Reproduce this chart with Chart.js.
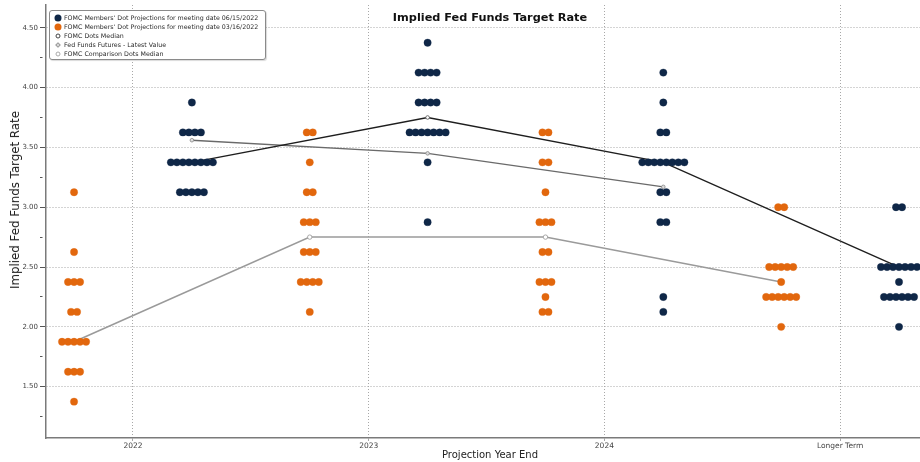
<!DOCTYPE html>
<html>
<head>
<meta charset="utf-8">
<title>Implied Fed Funds Target Rate</title>
<script src="https://cdn.jsdelivr.net/npm/chart.js@4/dist/chart.umd.min.js"></script>
<style>
    html, body { margin: 0; padding: 0; background: #fff; }
    #wrap { position: relative; width: 920px; height: 462px; overflow: hidden; }
    #chart { display: block; }
    #title {
        position: absolute; left: 490px; top: 11px; transform: translateX(-50%);
        font: bold 11.3px "DejaVu Sans", sans-serif; color: #111; white-space: nowrap;
    }
    #ytitle {
        position: absolute; left: 15px; top: 200px; transform: translate(-50%, -50%) rotate(-90deg);
        font: 11.8px "DejaVu Sans", sans-serif; color: #222; white-space: nowrap;
    }
    #xtitle {
        position: absolute; left: 490px; top: 449px; transform: translateX(-50%);
        font: 10px "DejaVu Sans", sans-serif; color: #222; white-space: nowrap;
    }
    #legend {
        position: absolute; left: 49px; top: 10px; width: 217px; height: 50px;
        border: 1px solid #8a8a8a; border-radius: 3px; background: #fff;
        box-shadow: 1px 1px 1px rgba(0,0,0,0.15);
        padding: 3px 0 0 0; box-sizing: border-box;
        font: 6.3px "DejaVu Sans", sans-serif; color: #2a2a2a;
    }
    #legend .row { height: 8.9px; line-height: 8.9px; position: relative; padding-left: 14px; white-space: nowrap; }
    #legend .mk { position: absolute; left: 8px; top: 50%; transform: translate(-50%, -50%); border-radius: 50%; box-sizing: border-box; }
</style>
</head>
<body>
<div id="wrap">
    <canvas id="chart" width="920" height="462"></canvas>
    <div id="title">Implied Fed Funds Target Rate</div>
    <div id="ytitle">Implied Fed Funds Target Rate</div>
    <div id="xtitle">Projection Year End</div>
    <div id="legend"></div>
</div>
<script>
'use strict';

// Categories on the x axis
const categories = ['2022', '2023', '2024', 'Longer Term'];

// Y axis ticks (labelled majors, unlabelled minors)
const yMajorTicks = [1.5, 2.0, 2.5, 3.0, 3.5, 4.0, 4.5];
const yMinorTicks = [1.25, 1.75, 2.25, 2.75, 3.25, 3.75, 4.25];

// Dot plot, meeting 06/15/2022: [rate, number of dots] per category
const june2022 = [[3.875, 1], [3.625, 4], [3.375, 8], [3.125, 5]];
const june2023 = [[4.375, 1], [4.125, 4], [3.875, 4], [3.625, 7], [3.375, 1], [2.875, 1]];
const june2024 = [[4.125, 1], [3.875, 1], [3.625, 2], [3.375, 8], [3.125, 2], [2.875, 2], [2.25, 1], [2.125, 1]];
const juneLonger = [[3.0, 2], [2.5, 7], [2.375, 1], [2.25, 6], [2.0, 1]];

// Dot plot, meeting 03/16/2022
const march2022 = [[3.125, 1], [2.625, 1], [2.375, 3], [2.125, 2], [1.875, 5], [1.625, 3], [1.375, 1]];
const march2023 = [[3.625, 2], [3.375, 1], [3.125, 2], [2.875, 3], [2.625, 3], [2.375, 4], [2.125, 1]];
const march2024 = [[3.625, 2], [3.375, 2], [3.125, 1], [2.875, 3], [2.625, 2], [2.375, 3], [2.25, 1], [2.125, 2]];
const marchLonger = [[3.0, 2], [2.5, 5], [2.375, 1], [2.25, 6], [2.0, 1]];

// Medians and futures
const medianJune = [3.375, 3.75, 3.375, 2.5];
const medianMarch = [1.875, 2.75, 2.75, 2.375];
const futuresLatest = [3.56, 3.45, 3.17];

const LEGEND_LABELS = [
    "FOMC Members' Dot Projections for meeting date 06/15/2022",
    "FOMC Members' Dot Projections for meeting date 03/16/2022",
    'FOMC Dots Median',
    'Fed Funds Futures - Latest Value',
    'FOMC Comparison Dots Median'
];

const NAVY = '#0f2747';
const ORANGE = '#e2670d';
const FONT = '"DejaVu Sans", sans-serif';
const SIDE_OFFSET = 0.25;   // march dots left of the year line, june dots right
const DOT_STEP = 0.0255;    // horizontal step between stacked dots (x units)

/**
 * Turn [rate, count] rows into scatter points, dots centred around the column
 */
function dotPoints(columns, side) {
    const points = [];
    columns.forEach(function(rows, i) {
        rows.forEach(function(row) {
            const rate = row[0], count = row[1];
            for (let k = 0; k < count; k++) {
                points.push({ x: i + side + (k - (count - 1) / 2) * DOT_STEP, y: rate });
            }
        });
    });
    return points;
}

function linePoints(values, side) {
    return values.map(function(v, i) { return { x: i + side, y: v }; });
}

const datasets = [
    {
        label: LEGEND_LABELS[0],
        data: dotPoints([june2022, june2023, june2024, juneLonger], SIDE_OFFSET),
        pointRadius: 3.7, pointBackgroundColor: NAVY, pointBorderColor: NAVY, pointBorderWidth: 0.3,
        order: 0
    },
    {
        label: LEGEND_LABELS[1],
        data: dotPoints([march2022, march2023, march2024, marchLonger], -SIDE_OFFSET),
        pointRadius: 3.7, pointBackgroundColor: ORANGE, pointBorderColor: ORANGE, pointBorderWidth: 0.3,
        order: 0
    },
    {
        label: LEGEND_LABELS[2],
        data: linePoints(medianJune, SIDE_OFFSET),
        showLine: true, borderColor: '#1e1e1e', borderWidth: 1.4,
        pointRadius: 1.8, pointBackgroundColor: '#fff', pointBorderColor: '#555', pointBorderWidth: 0.8,
        order: 1
    },
    {
        label: LEGEND_LABELS[3],
        data: linePoints(futuresLatest, SIDE_OFFSET),
        showLine: true, borderColor: '#6a6a6a', borderWidth: 1.4,
        pointRadius: 1.8, pointBackgroundColor: '#ddd', pointBorderColor: '#888', pointBorderWidth: 0.8,
        order: 1
    },
    {
        label: LEGEND_LABELS[4],
        data: linePoints(medianMarch, -SIDE_OFFSET),
        showLine: true, borderColor: '#9a9a9a', borderWidth: 1.5,
        pointRadius: 2.2, pointBackgroundColor: '#fff', pointBorderColor: '#a0a0a0', pointBorderWidth: 0.9,
        order: 1
    }
];

const isMajor = function(v) { return yMajorTicks.indexOf(v) !== -1; };

const chart = new Chart(document.getElementById('chart').getContext('2d'), {
    type: 'scatter',
    data: { datasets: datasets },
    options: {
        responsive: false,
        animation: false,
        layout: { autoPadding: false, padding: { top: 5, right: 0, bottom: 0, left: 0 } },
        plugins: {
            legend: { display: false },
            tooltip: { enabled: false }
        },
        scales: {
            x: {
                type: 'linear',
                min: -0.369,
                max: 3.339,
                afterBuildTicks: function(scale) {
                    scale.ticks = categories.map(function(c, i) { return { value: i }; });
                },
                afterFit: function(scale) {
                    // no extra room for the edge labels, plot runs to the right edge
                    scale.height = 24;
                    scale.paddingLeft = 0;
                    scale.paddingRight = 0;
                },
                ticks: {
                    callback: function(v) { return categories[v]; },
                    font: { family: FONT, size: 7.5 },
                    color: '#444',
                    padding: 1,
                    maxRotation: 0,
                    autoSkip: false
                },
                grid: { color: '#a8a8a8', lineWidth: 1, tickLength: 3, tickColor: '#a8a8a8' },
                border: { color: '#7a7a7a', width: 1.5, dash: [1, 2] }
            },
            y: {
                min: 1.071,
                max: 4.69,
                afterBuildTicks: function(scale) {
                    scale.ticks = yMajorTicks.concat(yMinorTicks).sort().map(function(v) { return { value: v }; });
                },
                afterFit: function(scale) {
                    scale.width = 46;
                    scale.paddingTop = 0;
                    scale.paddingBottom = 0;
                },
                ticks: {
                    callback: function(v) { return isMajor(v) ? v.toFixed(2) : ''; },
                    font: { family: FONT, size: 7 },
                    color: '#444',
                    padding: 2
                },
                grid: {
                    color: function(ctx) { return ctx.tick && isMajor(ctx.tick.value) ? '#a8a8a8' : 'rgba(0,0,0,0)'; },
                    tickColor: '#555',
                    tickLength: 6,
                    tickBorderDash: function(ctx) { return ctx.tick && isMajor(ctx.tick.value) ? [] : [2.5, 20]; },
                    lineWidth: 1
                },
                border: { color: '#7a7a7a', width: 1.5, dash: [1, 2] }
            }
        }
    }
});

// HTML legend built from the chart's datasets
(function buildLegend() {
    const box = document.getElementById('legend');
    const markers = [
        'width:7px;height:7px;background:' + NAVY + ';',
        'width:7px;height:7px;background:' + ORANGE + ';',
        'width:5px;height:5px;border:1px solid #444;background:#fff;',
        'width:4px;height:4px;border:1px solid #999;background:#ddd;border-radius:0;transform:translate(-50%,-50%) rotate(45deg);',
        'width:5px;height:5px;border:1px solid #aaa;background:#fff;'
    ];
    chart.data.datasets.forEach(function(ds, i) {
        const row = document.createElement('div');
        row.className = 'row';
        const mk = document.createElement('span');
        mk.className = 'mk';
        mk.style.cssText = markers[i];
        row.appendChild(mk);
        row.appendChild(document.createTextNode(ds.label));
        box.appendChild(row);
    });
})();
</script>
</body>
</html>
